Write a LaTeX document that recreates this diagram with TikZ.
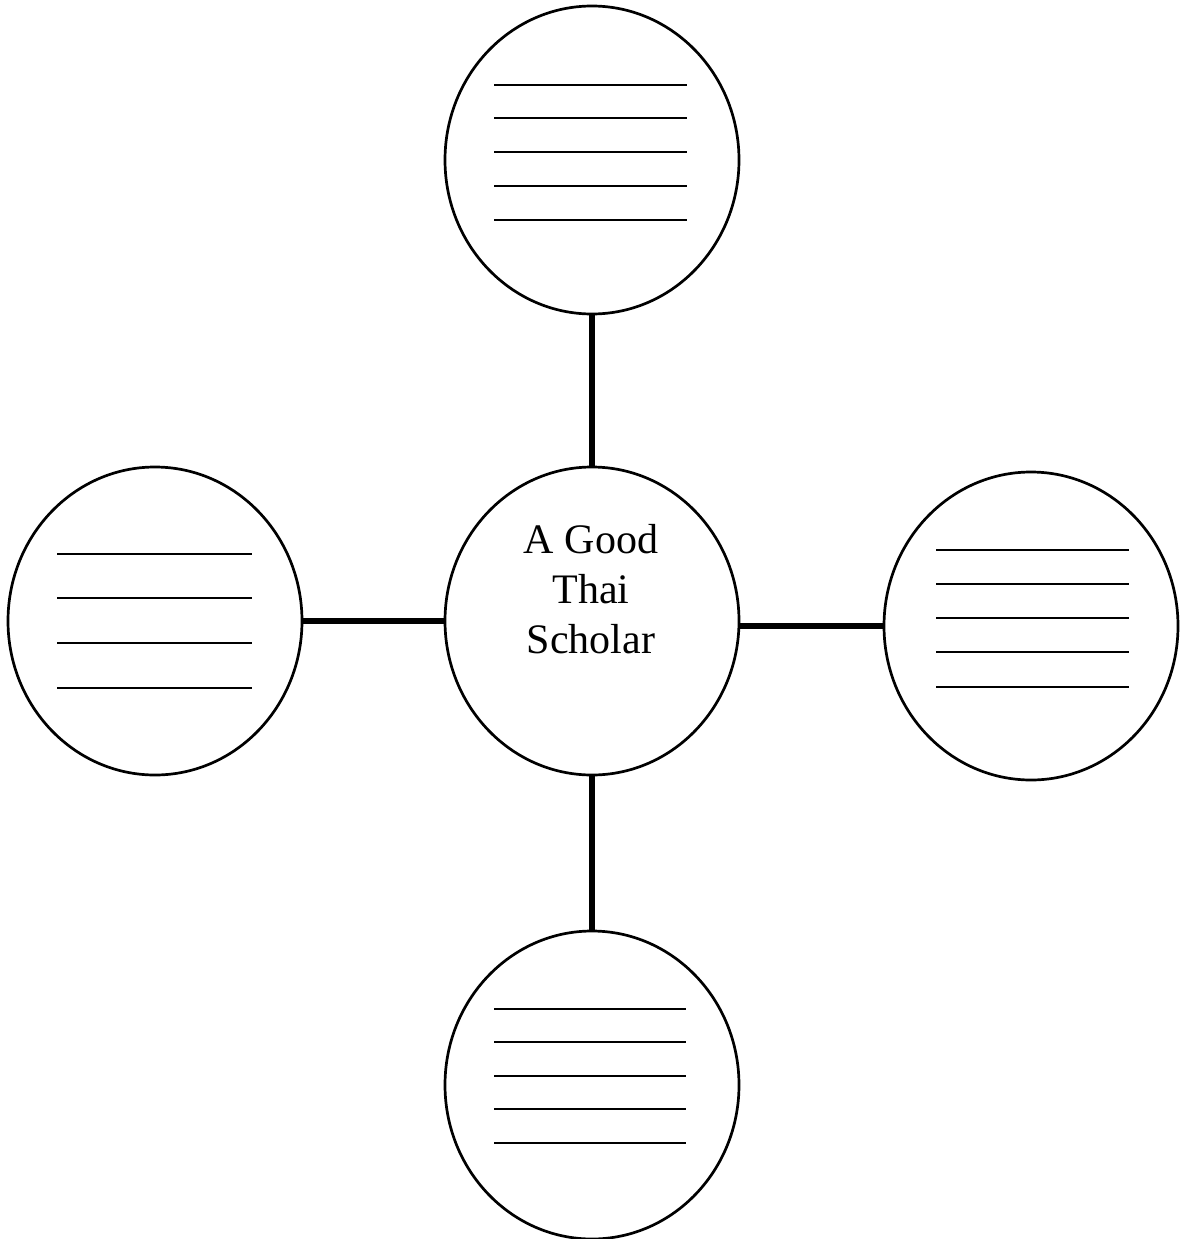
\documentclass[tikz,border=0pt]{standalone}
\usepackage{fontspec}
\setmainfont{Liberation Serif}
\usetikzlibrary{shapes.geometric}
\begin{document}
\begin{tikzpicture}[x=1pt,y=-1pt,
  bubble/.style={draw=black,line width=2.7pt,ellipse,minimum width=294pt,minimum height=308pt,inner sep=0pt},
  rule/.style={draw=black,line width=2.3pt},
  link/.style={draw=black,line width=6pt},
  lbl/.style={font=\fontsize{42}{50}\selectfont,anchor=base,inner sep=0pt}]
\useasboundingbox[fill=white] (0,0) rectangle (1181,1239);
\node[bubble] (c) at (592,621) {};
\node[bubble] (t) at (592,160) {};
\node[bubble] (l) at (155,621) {};
\node[bubble] (r) at (1031,626) {};
\node[bubble] (b) at (592,1085) {};
\node[lbl] (t1) at (591,553) {A Good};
\node[lbl] (t2) at (591,603) {Thai};
\node[lbl] (t3) at (591,653) {Scholar};
\draw[link] (c) -- (t);
\draw[link] (c) -- (l);
\draw[link] (r.west) -- (r.west -| c.east);
\draw[link] (c) -- (b);
\foreach \yy in {85,118,152,186,220} {\draw[rule] (494,\yy) -- (687,\yy);}
\foreach \yy in {554,598,643,688} {\draw[rule] (57,\yy) -- (252,\yy);}
\foreach \yy in {550,584,618,652,687} {\draw[rule] (936,\yy) -- (1129,\yy);}
\foreach \yy in {1009,1042,1076,1109,1143} {\draw[rule] (494,\yy) -- (686,\yy);}
\end{tikzpicture}
\end{document}
